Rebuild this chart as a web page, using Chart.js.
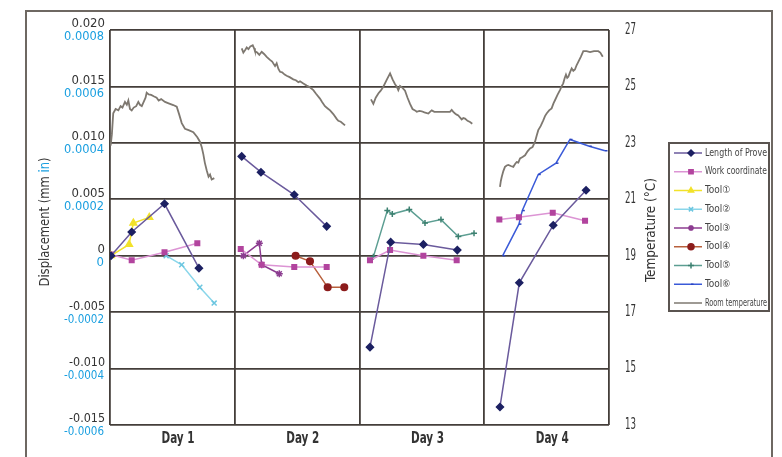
<!DOCTYPE html>
<html>
<head>
<meta charset="utf-8">
<title>Displacement and room temperature</title>
<script src="https://cdn.jsdelivr.net/npm/chart.js@4.4.1/dist/chart.umd.min.js"></script>
<style>
    html, body { margin: 0; padding: 0; background: #ffffff; }
    #wrap { width: 782px; height: 457px; }
</style>
</head>
<body>
<div id="wrap"><canvas id="dispChart" width="782" height="457"></canvas></div>
<script>
// categories / tick labels
const dayLabels = ['Day 1', 'Day 2', 'Day 3', 'Day 4'];
const mmTicks = [-0.015, -0.010, -0.005, 0, 0.005, 0.010, 0.015, 0.020];
const mmLabels = ['-0.015', '-0.010', '-0.005', '0', '0.005', '0.010', '0.015', '0.020'];
const inLabels = ['-0.0006', '-0.0004', '-0.0002', '0', '0.0002', '0.0004', '0.0006', '0.0008'];
const tempTicks = [13, 15, 17, 19, 21, 23, 25, 27];

// x = day position (0..4), y = displacement in mm, null = break between days
const proveX = [0.008, 0.174, 0.437, 0.713, 1, 1.056, 1.21, 1.477, 1.737, 2, 2.084, 2.25, 2.512, 2.784, 3, 3.126, 3.281, 3.553, 3.816];
const proveY = [0, 0.0021, 0.0046, -0.0011, null, 0.0088, 0.0074, 0.0054, 0.0026, null, -0.0081, 0.0012, 0.0010, 0.0005, null, -0.0134, -0.0024, 0.0027, 0.0058];

const workX = [0.008, 0.174, 0.437, 0.70, 1, 1.048, 1.216, 1.477, 1.737, 2, 2.084, 2.245, 2.512, 2.779, 3, 3.121, 3.278, 3.549, 3.808];
const workY = [0.0001, -0.0004, 0.0003, 0.0011, null, 0.0006, -0.0008, -0.0010, -0.0010, null, -0.0004, 0.0005, 0.0000, -0.0004, null, 0.0032, 0.0034, 0.0038, 0.0031];

const tool1X = [0.008, 0.153, 0.187, 0.315];
const tool1Y = [0, 0.0010, 0.0029, 0.0034];
const tool2X = [0.45, 0.575, 0.72, 0.835];
const tool2Y = [0, -0.0008, -0.0028, -0.0042];
const tool3X = [1.069, 1.197, 1.216, 1.357];
const tool3Y = [0, 0.0011, -0.0008, -0.0016];
const tool4X = [1.488, 1.603, 1.745, 1.878];
const tool4Y = [0, -0.0005, -0.0028, -0.0028];
const tool5X = [2.111, 2.223, 2.263, 2.399, 2.525, 2.653, 2.792, 2.918];
const tool5Y = [-0.0001, 0.0040, 0.0037, 0.0041, 0.0029, 0.0032, 0.0017, 0.0020];
const tool6X = [3.148, 3.278, 3.305, 3.433, 3.575, 3.687, 3.842, 3.968];
const tool6Y = [0, 0.0028, 0.0040, 0.0072, 0.0082, 0.0103, 0.0097, 0.0093];

// room temperature in degC (right axis)
const roomX = [
    0.005, 0.015, 0.026, 0.045, 0.067, 0.085, 0.10, 0.12, 0.135, 0.147, 0.16, 0.174, 0.19, 0.21, 0.227, 0.24, 0.255, 0.27, 0.285, 0.294,
    0.31, 0.33, 0.35, 0.374, 0.39, 0.41, 0.441, 0.47, 0.507, 0.535, 0.555, 0.575, 0.601, 0.63, 0.668, 0.70, 0.721, 0.735, 0.748, 0.76,
    0.775, 0.79, 0.802, 0.815, 0.836, 1,
    1.056, 1.069, 1.085, 1.096, 1.11, 1.125, 1.144, 1.155, 1.162, 1.18, 1.197, 1.216, 1.235, 1.256, 1.28, 1.30, 1.323, 1.336, 1.35, 1.363,
    1.38, 1.40, 1.416, 1.44, 1.469, 1.49, 1.51, 1.523, 1.55, 1.577, 1.60, 1.63, 1.65, 1.683, 1.70, 1.723, 1.745, 1.764, 1.79, 1.817,
    1.83, 1.85, 1.884, 2,
    2.092, 2.111, 2.13, 2.151, 2.17, 2.191, 2.22, 2.245, 2.265, 2.285, 2.298, 2.311, 2.325, 2.345, 2.365, 2.385, 2.405, 2.425, 2.445, 2.459,
    2.48, 2.499, 2.52, 2.552, 2.565, 2.579, 2.60, 2.632, 2.68, 2.725, 2.739, 2.752, 2.766, 2.779, 2.792, 2.805, 2.819, 2.832, 2.846, 2.866,
    2.886, 2.904, 3,
    3.126, 3.133, 3.14, 3.153, 3.166, 3.18, 3.193, 3.213, 3.233, 3.247, 3.26, 3.273, 3.287, 3.307, 3.327, 3.347, 3.367, 3.387, 3.407, 3.42,
    3.433, 3.453, 3.473, 3.487, 3.50, 3.52, 3.54, 3.555, 3.567, 3.587, 3.607, 3.62, 3.633, 3.645, 3.655, 3.665, 3.674, 3.687, 3.701, 3.714,
    3.727, 3.74, 3.754, 3.774, 3.794, 3.82, 3.848, 3.88, 3.914, 3.93, 3.95
];
const roomT = [
    22.9, 23.3, 24.05, 24.2, 24.15, 24.3, 24.25, 24.45, 24.35, 24.5, 24.2, 24.15, 24.25, 24.3, 24.45, 24.35, 24.3, 24.45, 24.6, 24.78,
    24.72, 24.7, 24.65, 24.6, 24.5, 24.55, 24.45, 24.4, 24.34, 24.28, 24.0, 23.7, 23.5, 23.45, 23.38, 23.2, 23.04, 22.85, 22.6, 22.3,
    22.03, 21.8, 21.88, 21.7, 21.75, null,
    26.35, 26.2, 26.3, 26.38, 26.32, 26.42, 26.46, 26.35, 26.25, 26.2, 26.12, 26.23, 26.15, 26.05, 25.95, 25.88, 25.72, 25.82, 25.62, 25.52,
    25.5, 25.42, 25.38, 25.33, 25.25, 25.22, 25.15, 25.18, 25.1, 25.03, 24.98, 24.87, 24.75, 24.57, 24.45, 24.3, 24.22, 24.15, 24.02, 23.85,
    23.78, 23.75, 23.62, null,
    24.54, 24.38, 24.6, 24.75, 24.85, 24.99, 25.25, 25.46, 25.25, 25.08, 25.0, 24.87, 25.02, 24.95, 24.85, 24.6, 24.38, 24.2, 24.15, 24.1,
    24.13, 24.12, 24.08, 24.04, 24.1, 24.15, 24.1, 24.1, 24.1, 24.1, 24.17, 24.1, 24.04, 24.0, 23.97, 23.9, 23.83, 23.88, 23.86, 23.78,
    23.74, 23.68, null,
    21.44, 21.65, 21.79, 22.0, 22.15, 22.2, 22.22, 22.18, 22.15, 22.25, 22.32, 22.3, 22.45, 22.5, 22.56, 22.7, 22.8, 22.85, 23.04, 23.25,
    23.45, 23.6, 23.8, 23.95, 24.04, 24.15, 24.22, 24.4, 24.51, 24.7, 24.87, 25.0, 25.11, 25.3, 25.42, 25.3, 25.34, 25.5, 25.64, 25.55,
    25.6, 25.75, 25.87, 26.05, 26.25, 26.25, 26.22, 26.25, 26.25, 26.2, 26.05
];

const FONT = '"DejaVu Sans Condensed", "DejaVu Sans", sans-serif';
const GRID = '#443e3a';
const BLUE = '#1a9fe0';
const TEXT = '#333333';

function pts(xs, ys) {
    return xs.map((x, i) => ({ x: x, y: ys[i] }));
}

function series(label, xs, ys, line, marker, style, radius, axis) {
    return {
        label: label,
        data: pts(xs, ys),
        yAxisID: axis || 'y',
        borderColor: line,
        backgroundColor: marker,
        pointBorderColor: marker,
        pointBackgroundColor: marker,
        pointStyle: style,
        pointRadius: radius,
        pointBorderWidth: 1.5,
        borderWidth: 1.5,
        tension: 0,
        spanGaps: false
    };
}

const datasets = [
    series('Length of Prove', proveX, proveY, '#6a5a9c', '#1c2062', 'rectRot', 3.5),
    series('Work coordinate', workX, workY, '#dc94d4', '#b2449e', 'rect', 3.2),
    series('Tool①', tool1X, tool1Y, '#f2e22a', '#f2e22a', 'triangle', 3.8),
    series('Tool②', tool2X, tool2Y, '#8ad6ea', '#6cc6e0', 'crossRot', 3.5),
    series('Tool③', tool3X, tool3Y, '#8c3c90', '#8c3c90', 'star', 3.5),
    series('Tool④', tool4X, tool4Y, '#b8603c', '#8c1c1c', 'circle', 3.3),
    series('Tool⑤', tool5X, tool5Y, '#5c9e92', '#3c8070', 'cross', 3),
    series('Tool⑥', tool6X, tool6Y, '#3a5ad8', '#2a44c0', 'dash', 2.5),
    series('Room temperature', roomX, roomT, '#7e7870', '#7e7870', false, 0, 'y2')
];
datasets[8].borderWidth = 1.8;

const overlayPlugin = {
    id: 'overlay',
    afterDraw(chart) {
        const ctx = chart.ctx;
        const x = chart.scales.x;
        const y = chart.scales.y;
        const y2 = chart.scales.y2;
        ctx.save();

        // outer frame
        ctx.strokeStyle = '#6e6862';
        ctx.lineWidth = 2;
        ctx.beginPath();
        ctx.moveTo(26, 470);
        ctx.lineTo(26, 11);
        ctx.lineTo(772, 11);
        ctx.lineTo(772, 470);
        ctx.stroke();

        // left tick labels, mm above and inch below
        ctx.font = '13px ' + FONT;
        ctx.textAlign = 'right';
        ctx.textBaseline = 'middle';
        mmTicks.forEach((v, i) => {
            const py = y.getPixelForValue(v);
            ctx.fillStyle = TEXT;
            ctx.fillText(mmLabels[i], 105, py - 6, 36);
            ctx.fillStyle = BLUE;
            ctx.fillText(inLabels[i], 104, py + 7, 40);
        });

        // right tick labels
        ctx.font = '15px ' + FONT;
        ctx.textAlign = 'left';
        ctx.fillStyle = TEXT;
        tempTicks.forEach(v => {
            ctx.fillText(String(v), 625, y2.getPixelForValue(v), 11);
        });

        // day labels under each panel
        ctx.font = 'bold 15px ' + FONT;
        ctx.textAlign = 'center';
        dayLabels.forEach((d, i) => {
            ctx.fillText(d, x.getPixelForValue(i + 0.545), 439, 33);
        });

        // left title with blue "in"
        ctx.save();
        ctx.translate(45, 222);
        ctx.rotate(-Math.PI / 2);
        ctx.font = '14px ' + FONT;
        const parts = [['Displacement (mm ', TEXT], ['in', BLUE], [')', TEXT]];
        const total = parts.reduce((s, p) => s + ctx.measureText(p[0]).width, 0);
        const k = Math.min(1, 129 / total);
        ctx.scale(k, 1);
        let tx = -total / 2;
        ctx.textAlign = 'left';
        parts.forEach(p => {
            ctx.fillStyle = p[1];
            ctx.fillText(p[0], tx, 0);
            tx += ctx.measureText(p[0]).width;
        });
        ctx.restore();

        // right title
        ctx.save();
        ctx.translate(651, 230);
        ctx.rotate(-Math.PI / 2);
        ctx.font = '14px ' + FONT;
        ctx.fillStyle = TEXT;
        ctx.textAlign = 'center';
        ctx.textBaseline = 'middle';
        ctx.fillText('Temperature (°C)', 0, 0, 104);
        ctx.restore();

        // legend box
        ctx.strokeStyle = '#5a5450';
        ctx.lineWidth = 2;
        ctx.strokeRect(669, 143, 100, 168);
        ctx.font = '10px ' + FONT;
        ctx.textAlign = 'left';
        datasets.forEach((ds, i) => {
            const ly = 153 + i * 18.75;
            ctx.strokeStyle = ds.borderColor;
            ctx.lineWidth = 1.5;
            ctx.beginPath();
            ctx.moveTo(674, ly);
            ctx.lineTo(702, ly);
            ctx.stroke();
            if (ds.pointStyle && Chart.helpers && Chart.helpers.drawPoint) {
                ctx.fillStyle = ds.pointBackgroundColor;
                ctx.strokeStyle = ds.pointBorderColor;
                Chart.helpers.drawPoint(ctx, {
                    pointStyle: ds.pointStyle,
                    radius: Math.min(ds.pointRadius, 3),
                    rotation: 0,
                    borderWidth: 1.5
                }, 691, ly);
            }
            ctx.fillStyle = '#444444';
            ctx.fillText(ds.label, 705, ly, 62);
        });

        ctx.restore();
    }
};

new Chart(document.getElementById('dispChart'), {
    type: 'line',
    data: { datasets: datasets },
    options: {
        responsive: false,
        animation: false,
        layout: { padding: { top: 30, left: 110, right: 0, bottom: 0 } },
        plugins: {
            legend: { display: false },
            tooltip: { enabled: false }
        },
        scales: {
            x: {
                type: 'linear',
                min: 0,
                max: 4,
                afterBuildTicks: s => { s.ticks = [0, 1, 2, 3, 4].map(v => ({ value: v })); },
                afterFit: s => { s.height = 32; },
                border: { display: false },
                grid: { drawTicks: false, lineWidth: 1.8, color: GRID },
                ticks: { display: false }
            },
            y: {
                type: 'linear',
                position: 'left',
                min: -0.015,
                max: 0.020,
                afterBuildTicks: s => { s.ticks = mmTicks.map(v => ({ value: v })); },
                afterFit: s => { s.width = 0; },
                border: { display: false },
                grid: { drawTicks: false, lineWidth: 1.8, color: GRID },
                ticks: { display: false }
            },
            y2: {
                type: 'linear',
                position: 'right',
                min: 13,
                max: 27,
                afterBuildTicks: s => { s.ticks = tempTicks.map(v => ({ value: v })); },
                afterFit: s => { s.width = 173; },
                border: { display: false },
                grid: { drawOnChartArea: false, drawTicks: false },
                ticks: { display: false }
            }
        }
    },
    plugins: [overlayPlugin]
});
</script>
</body>
</html>
